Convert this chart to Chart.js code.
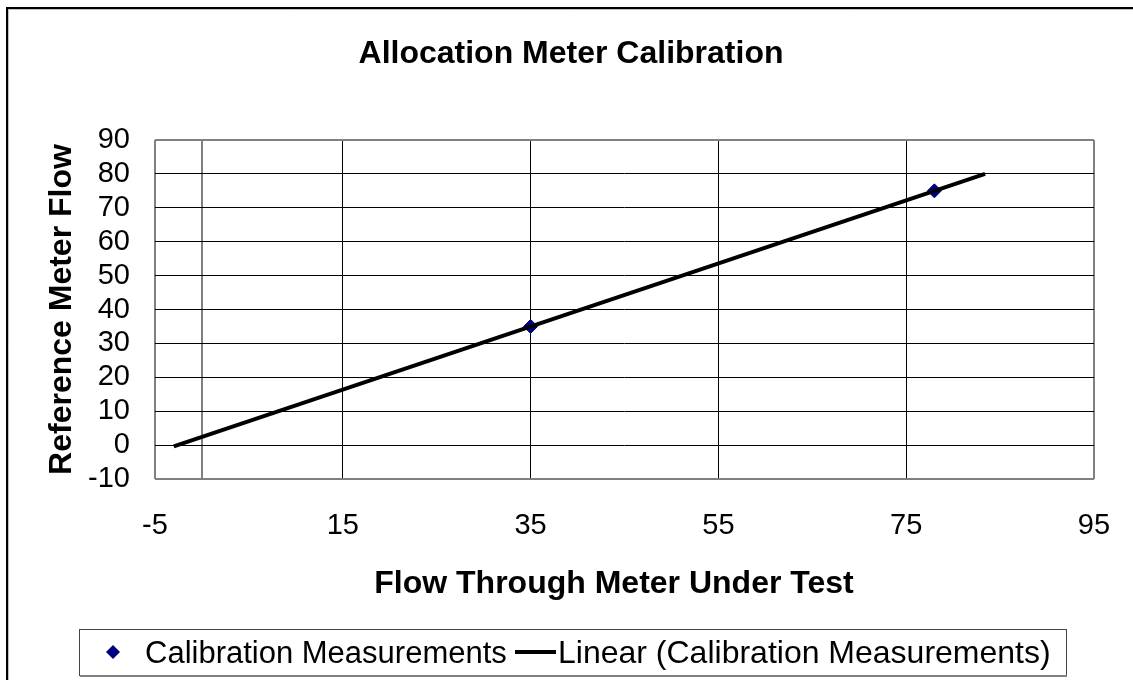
<!DOCTYPE html>
<html>
<head>
<meta charset="utf-8">
<script src="https://cdn.jsdelivr.net/npm/chart.js@4.4.1/dist/chart.umd.min.js"></script>
<style>
  html, body { margin: 0; padding: 0; background: #fff; }
  #wrap { position: relative; width: 1133px; height: 680px; }
</style>
</head>
<body>
<div id="wrap"><canvas id="myChart" width="1133" height="680"></canvas></div>
<script>
'use strict';

// calibration points
let measX = [35, 78];
let measY = [35, 75];

// linear trendline end points
let trendX = [-3, 83.4];
let trendY = [-0.4, 80];

let xTicks = [-5, 0, 15, 35, 55, 75, 95];
let yMin = -10;
let yMax = 90;

let titleText = 'Allocation Meter Calibration';
let xTitle = 'Flow Through Meter Under Test';
let yTitle = 'Reference Meter Flow';
let seriesNames = ['Calibration Measurements', 'Linear (Calibration Measurements)'];

const FONT = "'Liberation Sans', Arial, sans-serif";

// frame, titles and the boxed legend
const framePlugin = {
    id: 'frame',
    beforeDraw(chart) {
        let ctx = chart.ctx;
        ctx.save();
        ctx.fillStyle = '#fff';
        ctx.fillRect(0, 0, chart.width, chart.height);
        ctx.strokeStyle = '#000';
        ctx.lineWidth = 2;
        ctx.beginPath();
        ctx.moveTo(7, 680);
        ctx.lineTo(7, 8);
        ctx.lineTo(1133, 8);
        ctx.stroke();
        ctx.strokeStyle = '#c0c0c0';
        ctx.lineWidth = 1;
        ctx.beginPath();
        ctx.moveTo(8.5, 680);
        ctx.lineTo(8.5, 9.5);
        ctx.lineTo(1133, 9.5);
        ctx.stroke();
        ctx.restore();
    },
    afterDraw(chart) {
        let ctx = chart.ctx;
        ctx.save();

        ctx.fillStyle = '#000';
        ctx.textAlign = 'center';
        ctx.textBaseline = 'alphabetic';
        ctx.font = 'bold 32px ' + FONT;
        ctx.fillText(titleText, 571, 63);
        ctx.fillText(xTitle, 614, 593);

        // legend box
        ctx.strokeStyle = '#444';
        ctx.lineWidth = 1;
        ctx.strokeRect(79.5, 629.5, 987, 46);
        ctx.strokeStyle = '#808080';
        ctx.lineWidth = 2;
        ctx.beginPath();
        ctx.moveTo(80, 676);
        ctx.lineTo(1067, 676);
        ctx.stroke();

        // diamond marker
        ctx.fillStyle = '#000080';
        ctx.beginPath();
        ctx.moveTo(113, 645);
        ctx.lineTo(120, 652);
        ctx.lineTo(113, 659);
        ctx.lineTo(106, 652);
        ctx.closePath();
        ctx.fill();

        // line sample
        ctx.strokeStyle = '#000';
        ctx.lineWidth = 4;
        ctx.beginPath();
        ctx.moveTo(515, 652);
        ctx.lineTo(556, 652);
        ctx.stroke();

        ctx.fillStyle = '#000';
        ctx.font = '31px ' + FONT;
        ctx.textAlign = 'left';
        ctx.fillText(seriesNames[0], 145, 663);
        ctx.font = '32px ' + FONT;
        ctx.fillText(seriesNames[1], 558, 663);
        ctx.restore();
    }
};

const data = {
    datasets: [
        {
            label: seriesNames[1],
            data: trendX.map((x, i) => ({ x: x, y: trendY[i] })),
            showLine: true,
            borderColor: '#000',
            borderWidth: 4,
            pointRadius: 0,
            fill: false,
            order: 0
        },
        {
            label: seriesNames[0],
            data: measX.map((x, i) => ({ x: x, y: measY[i] })),
            pointStyle: 'rectRot',
            pointRadius: 7,
            backgroundColor: '#000080',
            borderColor: '#000080',
            borderWidth: 1,
            order: 1
        }
    ]
};

const config = {
    type: 'scatter',
    data: data,
    plugins: [framePlugin],
    options: {
        responsive: false,
        animation: false,
        layout: {
            padding: { left: 0, right: 39, top: 140, bottom: 80 }
        },
        plugins: {
            legend: { display: false },
            tooltip: { enabled: false },
            title: { display: false }
        },
        scales: {
            x: {
                type: 'linear',
                min: -5,
                max: 95,
                afterBuildTicks: function (scale) {
                    scale.ticks = xTicks.map(v => ({ value: v }));
                },
                afterFit: function (scale) {
                    scale.height = 121;
                },
                ticks: {
                    autoSkip: false,
                    maxRotation: 0,
                    padding: 3,
                    color: '#000',
                    font: { family: FONT, size: 29 },
                    callback: function (v) { return v === 0 ? '' : String(v); }
                },
                grid: {
                    drawTicks: true,
                    tickLength: 27,
                    tickColor: 'rgba(0,0,0,0)',
                    color: function (c) {
                        let v = c.tick ? c.tick.value : null;
                        return (v === -5 || v === 0 || v === 95) ? '#808080' : '#000';
                    },
                    lineWidth: function (c) {
                        let v = c.tick ? c.tick.value : null;
                        return (v === -5 || v === 0 || v === 95) ? 2 : 1;
                    }
                },
                border: { display: false },
                title: { display: false }
            },
            y: {
                type: 'linear',
                min: yMin,
                max: yMax,
                afterFit: function (scale) {
                    scale.width = 155;
                },
                ticks: {
                    stepSize: 10,
                    autoSkip: false,
                    padding: 25,
                    color: '#000',
                    font: { family: FONT, size: 29 }
                },
                grid: {
                    drawTicks: false,
                    color: function (c) {
                        let v = c.tick ? c.tick.value : null;
                        return (v === yMin || v === yMax) ? '#808080' : '#000';
                    },
                    lineWidth: function (c) {
                        let v = c.tick ? c.tick.value : null;
                        return (v === yMin || v === yMax) ? 2 : 1;
                    }
                },
                border: { display: false },
                title: {
                    display: true,
                    text: yTitle,
                    color: '#000',
                    font: { family: FONT, size: 32, weight: 'bold', lineHeight: 1.2 },
                    padding: { top: 43, bottom: 0 }
                }
            }
        }
    }
};

var myChart = new Chart(document.getElementById('myChart'), config);
</script>
</body>
</html>
